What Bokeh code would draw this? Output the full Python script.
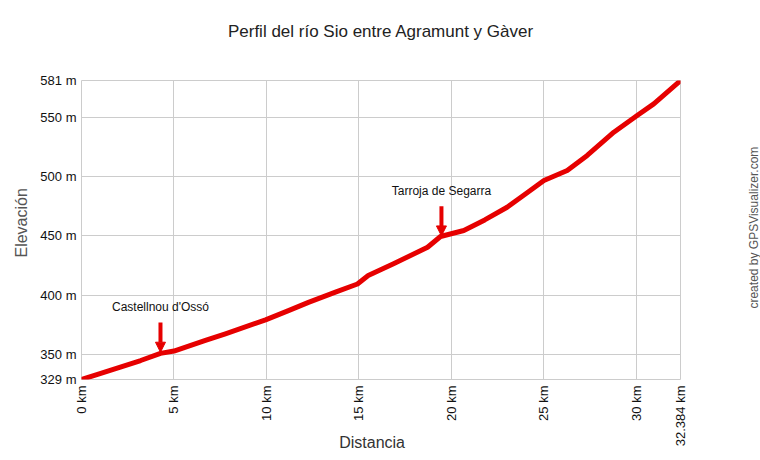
import math
from bokeh.plotting import figure
from bokeh.models import Range1d, FixedTicker, Label, Arrow, NormalHead, LinearAxis, Title
from bokeh.embed import file_html
from bokeh.resources import INLINE

# ---- data ----
dist_km = [0.0, 1.0, 2.1, 3.2, 4.27, 5.0, 6.7, 7.78, 9.95, 11.19, 12.27, 13.73,
           14.92, 15.5, 16.87, 18.71, 19.41, 20.67, 21.8, 23.01, 24.0, 25.0,
           26.26, 27.34, 28.78, 30.04, 30.94, 32.29, 32.384]
elev_m = [329.0, 334.0, 339.5, 345.0, 351.0, 353.0, 362.0, 367.5, 379.3, 387.0,
          394.0, 402.6, 409.5, 416.6, 426.5, 440.5, 449.5, 454.6, 463.5, 474.2,
          485.3, 496.7, 505.1, 517.8, 537.4, 551.5, 561.3, 579.6, 581.0]

town_names = ["Castellnou d'Ossó", "Tarroja de Segarra"]
town_km = [4.27, 19.46]
town_elev = [351.0, 449.0]

x_ticks = [0, 5, 10, 15, 20, 25, 30, 32.384]
x_tick_labels = ["0 km", "5 km", "10 km", "15 km", "20 km", "25 km", "30 km", "32.384 km"]
y_ticks = [329, 350, 400, 450, 500, 550, 581]
y_tick_labels = ["329 m", "350 m", "400 m", "450 m", "500 m", "550 m", "581 m"]

title_text = "Perfil del río Sio entre Agramunt y Gàver"
x_label = "Distancia"
y_label = "Elevación"
credit = "created by GPSVisualizer.com"
credit_at = 388.8  # elevation where the credit text starts

FONT = "Liberation Sans"
RED = "#e60000"
NBSP = "\u00a0"

x0, x1 = x_ticks[0], x_ticks[-1]
y0, y1 = y_ticks[0], y_ticks[-1]

p = figure(frame_width=599, frame_height=299,
           min_border_left=81, min_border_right=79,
           min_border_top=80, min_border_bottom=80,
           x_range=Range1d(x0, x1), y_range=Range1d(y0, y1),
           title=None, output_backend="svg", toolbar_location=None)

# spacer panel between frame and title, then the title itself
p.add_layout(Title(text=NBSP, text_font_size="1px", standoff=37), "above")
p.add_layout(Title(text=title_text, align="center", vertical_align="bottom", standoff=0,
                   text_font=FONT, text_font_size="17px", text_font_style="normal",
                   text_color="#222222"), "above")

p.background_fill_color = "white"
p.border_fill_color = "white"
p.outline_line_color = "#cccccc"
p.outline_line_width = 1
p.outline_line_alpha = 1.0

p.xaxis.ticker = FixedTicker(ticks=x_ticks)
p.yaxis.ticker = FixedTicker(ticks=y_ticks)
p.xaxis.major_label_overrides = {t: l for t, l in zip(x_ticks, x_tick_labels)}
p.yaxis.major_label_overrides = {t: l for t, l in zip(y_ticks, y_tick_labels)}
p.xaxis.major_label_orientation = math.pi / 2

for ax in (p.xaxis[0], p.yaxis[0]):
    ax.axis_line_color = None
    ax.major_tick_line_color = None
    ax.minor_tick_line_color = None
    ax.major_tick_out = 0
    ax.major_tick_in = 0
    ax.major_label_text_font = FONT
    ax.major_label_text_font_size = "13px"
    ax.major_label_text_color = "#111111"
p.xaxis[0].major_label_standoff = 6
p.yaxis[0].major_label_standoff = 5

# x axis title, overlapping the rotated tick labels' band as in the source
p.xaxis[0].axis_label = x_label + NBSP * 4
p.xaxis[0].axis_label_standoff = -15
p.xaxis[0].axis_label_text_font = FONT
p.xaxis[0].axis_label_text_font_size = "16px"
p.xaxis[0].axis_label_text_font_style = "normal"
p.xaxis[0].axis_label_text_color = "#333333"

# credit text as a single tick label on a right-hand axis
credit_axis = LinearAxis(ticker=FixedTicker(ticks=[credit_at]),
                         major_label_overrides={credit_at: credit},
                         major_label_orientation=math.pi / 2,
                         major_label_standoff=68,
                         major_label_text_font=FONT,
                         major_label_text_font_size="12px",
                         major_label_text_color="#555555",
                         axis_line_color=None, major_tick_line_color=None,
                         minor_tick_line_color=None)
p.add_layout(credit_axis, "right")

# y axis title
p.add_layout(Title(text=y_label, align="left", offset=122, standoff=16,
                   text_font=FONT, text_font_size="16px", text_font_style="normal",
                   text_color="#555555"), "left")

p.xgrid.grid_line_color = "#cccccc"
p.ygrid.grid_line_color = "#cccccc"
p.grid.grid_line_width = 1
p.grid.grid_line_alpha = 1.0

p.line(dist_km, elev_m, line_color=RED, line_width=5,
       line_join="round", line_cap="round")

# town markers
for name, km, el in zip(town_names, town_km, town_elev):
    p.add_layout(Arrow(x_start=km, y_start=el + 26, x_end=km, y_end=el + 1,
                       line_color=RED, line_width=4,
                       end=NormalHead(size=10, fill_color=RED, line_color=RED, line_width=1)))
    p.add_layout(Label(x=km, y=el + 33, text=name, text_align="center",
                       text_baseline="bottom", text_font=FONT,
                       text_font_size="12px", text_color="#111111"))

open("out.html", "w").write(file_html(p, INLINE))
